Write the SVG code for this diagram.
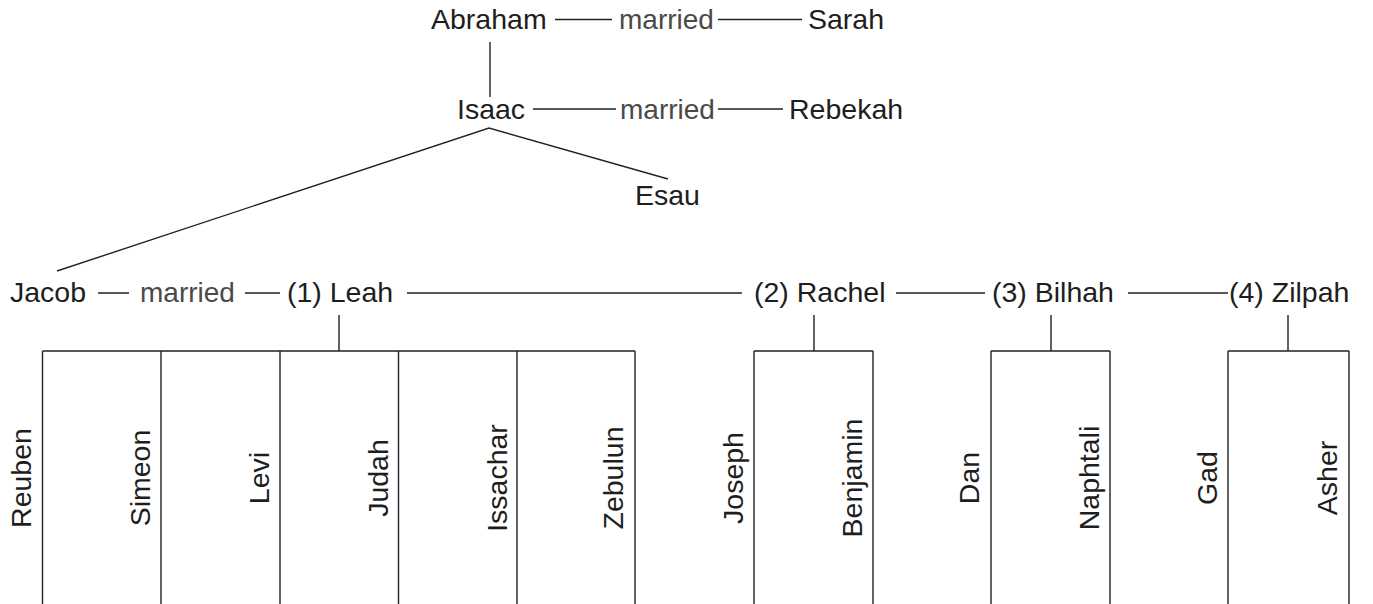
<svg xmlns="http://www.w3.org/2000/svg" width="1373" height="604" viewBox="0 0 1373 604">
<style>
.n{font-family:"Liberation Sans",Arial,Helvetica,sans-serif;font-size:28.5px;fill:#1e1e1e}
.m{font-family:"Liberation Sans",Arial,Helvetica,sans-serif;font-size:28px;fill:#4a4a4a}
.c{stroke:#222;stroke-width:1.4;fill:none}
.v{text-anchor:middle}
</style>
<rect width="1373" height="604" fill="#fff"/>
<g id="connectors" class="c">
<path d="M555 19.5H612M718 19.5H802"/>
<path d="M490 42V97"/>
<path d="M533 109H616M718 109H783"/>
<path d="M57 271L489 128L668 179"/>
<path d="M98 293H129M245 293H280M407 293H742M896 293H985M1128 293H1228"/>
<path d="M339 315V351M42.5 351H635M42.5 351V604M161 351V604M280 351V604M398.5 351V604M517 351V604M635 351V604"/>
<path d="M814 315V351M754 351H873M754 351V604M873 351V604"/>
<path d="M1051 315V351M991 351H1110M991 351V604M1110 351V604"/>
<path d="M1288 315V351M1228 351H1349M1228 351V604M1349 351V604"/>
</g>
<g id="abraham"><text class="n" x="431" y="29">Abraham</text></g>
<g id="married1"><text class="m" x="619" y="29">married</text></g>
<g id="sarah"><text class="n" x="808" y="29">Sarah</text></g>
<g id="isaac"><text class="n" x="457" y="118.5">Isaac</text></g>
<g id="married2"><text class="m" x="620" y="118.5">married</text></g>
<g id="rebekah"><text class="n" x="789" y="118.5">Rebekah</text></g>
<g id="esau"><text class="n" x="635" y="205">Esau</text></g>
<g id="jacob"><text class="n" x="10" y="302">Jacob</text></g>
<g id="married3"><text class="m" x="140" y="302">married</text></g>
<g id="leah"><text class="n" x="287" y="302">(1)  Leah</text></g>
<g id="rachel"><text class="n" x="754" y="302">(2) Rachel</text></g>
<g id="bilhah"><text class="n" x="992" y="302">(3) Bilhah</text></g>
<g id="zilpah"><text class="n" x="1229" y="302">(4) Zilpah</text></g>
<g id="reuben"><text class="n v" transform="translate(30.5 478) rotate(-90)">Reuben</text></g>
<g id="simeon"><text class="n v" transform="translate(149.5 478) rotate(-90)">Simeon</text></g>
<g id="levi"><text class="n v" transform="translate(268.5 478) rotate(-90)">Levi</text></g>
<g id="judah"><text class="n v" transform="translate(387.5 478) rotate(-90)">Judah</text></g>
<g id="issachar"><text class="n v" transform="translate(506.5 478) rotate(-90)">Issachar</text></g>
<g id="zebulun"><text class="n v" transform="translate(623 478) rotate(-90)">Zebulun</text></g>
<g id="joseph"><text class="n v" transform="translate(743 478) rotate(-90)">Joseph</text></g>
<g id="benjamin"><text class="n v" transform="translate(861.5 478) rotate(-90)">Benjamin</text></g>
<g id="dan"><text class="n v" transform="translate(979 478) rotate(-90)">Dan</text></g>
<g id="naphtali"><text class="n v" transform="translate(1098.5 478) rotate(-90)">Naphtali</text></g>
<g id="gad"><text class="n v" transform="translate(1216.5 478) rotate(-90)">Gad</text></g>
<g id="asher"><text class="n v" transform="translate(1337 478) rotate(-90)">Asher</text></g>
</svg>
